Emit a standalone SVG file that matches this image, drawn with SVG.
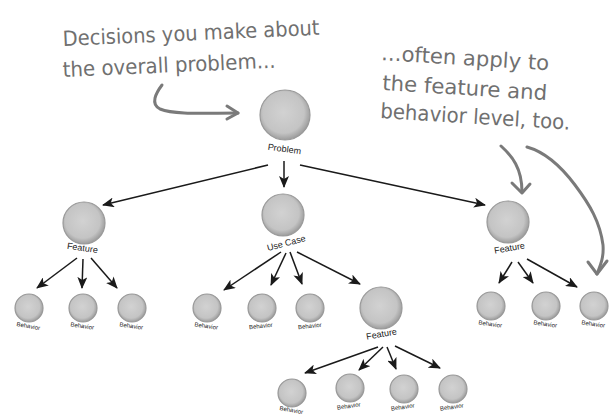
<svg xmlns="http://www.w3.org/2000/svg" width="614" height="415" viewBox="0 0 614 415">
<style>
.hand{font-family:"DejaVu Sans","Liberation Sans",sans-serif;font-size:21px;fill:#707070}
.lbl{font-family:"Liberation Sans","DejaVu Sans",sans-serif;font-size:9px;fill:#222;text-anchor:middle}
.blbl{font-family:"Liberation Sans","DejaVu Sans",sans-serif;font-size:6px;fill:#222;text-anchor:middle}
.ball{fill:url(#g);stroke:#999999;stroke-width:1.2}
.conn line{stroke:#1a1a1a;stroke-width:1.5;marker-end:url(#ah)}
.note{fill:none;stroke:#7a7a7a;stroke-width:3;stroke-linecap:round;stroke-linejoin:round}
</style>
<defs>
<radialGradient id="g" cx="0.47" cy="0.45" r="0.55">
<stop offset="0" stop-color="#d2d2d2"/>
<stop offset="0.75" stop-color="#c4c4c4"/>
<stop offset="1" stop-color="#9c9c9c"/>
</radialGradient>
<marker id="ah" markerUnits="userSpaceOnUse" markerWidth="12" markerHeight="10" refX="11" refY="5" orient="auto">
<path d="M0,0 L12,5 L0,10 L3,5 Z" fill="#1a1a1a"/>
</marker>
</defs>
<rect width="614" height="415" fill="#ffffff"/>

<g id="annotations">
<text class="hand" transform="translate(63,46) rotate(-2.5)" textLength="257" lengthAdjust="spacingAndGlyphs">Decisions you make about</text>
<text class="hand" transform="translate(63,77) rotate(-2.5)" textLength="213" lengthAdjust="spacingAndGlyphs">the overall problem...</text>
<text class="hand" transform="translate(381,60) rotate(3.5)" textLength="168" lengthAdjust="spacingAndGlyphs">...often apply to</text>
<text class="hand" transform="translate(382,90) rotate(3.5)" textLength="165" lengthAdjust="spacingAndGlyphs">the feature and</text>
<text class="hand" transform="translate(380,118) rotate(3.5)" textLength="190" lengthAdjust="spacingAndGlyphs">behavior level, too.</text>
<path class="note" d="M162,85 C156,93 150,104 160,109 C175,115 205,113 238,113"/>
<path class="note" d="M227,106 L238,113 L227,119"/>
<path class="note" d="M501,146 C512,156 522,168 522,192"/>
<path class="note" d="M512,183 L522,193 L530,184"/>
<path class="note" d="M527,147 C545,152 560,165 575,185 C590,205 600,222 603,245 C604,258 600,266 597,274"/>
<path class="note" d="M588,262 L597,274 L607,261"/>
</g>

<g id="connectors" class="conn">
<line x1="268" y1="165" x2="103" y2="205"/>
<line x1="284" y1="161" x2="284" y2="187"/>
<line x1="300" y1="165" x2="485" y2="205"/>
<line x1="77" y1="258" x2="37" y2="288"/>
<line x1="83" y1="259" x2="82" y2="288"/>
<line x1="91" y1="258" x2="117" y2="288"/>
<line x1="281" y1="252" x2="224" y2="290"/>
<line x1="286" y1="253" x2="271" y2="285"/>
<line x1="290" y1="252" x2="302" y2="284"/>
<line x1="297" y1="252" x2="360" y2="284"/>
<line x1="512" y1="262" x2="499" y2="283"/>
<line x1="518" y1="262" x2="533" y2="283"/>
<line x1="527" y1="259" x2="577" y2="287"/>
<line x1="378" y1="347" x2="305" y2="373"/>
<line x1="383" y1="347" x2="359" y2="370"/>
<line x1="387" y1="347" x2="396" y2="369"/>
<line x1="395" y1="346" x2="440" y2="368"/>
</g>

<g id="problem"><circle class="ball" cx="285" cy="115" r="25"/><text class="lbl" transform="translate(284,152) rotate(8)">Problem</text></g>
<g id="feature-left"><circle class="ball" cx="84" cy="223" r="21"/><text class="lbl" transform="translate(82,251) rotate(8)">Feature</text></g>
<g id="usecase"><circle class="ball" cx="283" cy="215" r="21"/><text class="lbl" transform="translate(287,246) rotate(-15)">Use Case</text></g>
<g id="feature-right"><circle class="ball" cx="508" cy="222" r="21"/><text class="lbl" transform="translate(510,251) rotate(-10)">Feature</text></g>
<g id="feature-mid"><circle class="ball" cx="381" cy="308" r="21"/><text class="lbl" transform="translate(382,337) rotate(-10)">Feature</text></g>

<g id="b1"><circle class="ball" cx="29" cy="308" r="14"/><text class="blbl" transform="translate(28,328) rotate(10)">Behavior</text></g>
<g id="b2"><circle class="ball" cx="83" cy="308" r="14"/><text class="blbl" transform="translate(82,328) rotate(8)">Behavior</text></g>
<g id="b3"><circle class="ball" cx="132" cy="308" r="14"/><text class="blbl" transform="translate(131,328) rotate(8)">Behavior</text></g>
<g id="b4"><circle class="ball" cx="207" cy="308" r="14"/><text class="blbl" transform="translate(206,328) rotate(8)">Behavior</text></g>
<g id="b5"><circle class="ball" cx="262" cy="308" r="14"/><text class="blbl" transform="translate(261,328) rotate(-6)">Behavior</text></g>
<g id="b6"><circle class="ball" cx="310" cy="308" r="14"/><text class="blbl" transform="translate(310,328) rotate(-6)">Behavior</text></g>
<g id="b7"><circle class="ball" cx="491" cy="306" r="14"/><text class="blbl" transform="translate(490,326) rotate(8)">Behavior</text></g>
<g id="b8"><circle class="ball" cx="546" cy="306" r="14"/><text class="blbl" transform="translate(545,326) rotate(8)">Behavior</text></g>
<g id="b9"><circle class="ball" cx="594" cy="306" r="14"/><text class="blbl" transform="translate(593,326) rotate(8)">Behavior</text></g>
<g id="b10"><circle class="ball" cx="292" cy="393" r="14"/><text class="blbl" transform="translate(291,412) rotate(10)">Behavior</text></g>
<g id="b11"><circle class="ball" cx="350" cy="388" r="14"/><text class="blbl" transform="translate(349,408) rotate(-8)">Behavior</text></g>
<g id="b12"><circle class="ball" cx="404" cy="389" r="14"/><text class="blbl" transform="translate(403,409) rotate(-8)">Behavior</text></g>
<g id="b13"><circle class="ball" cx="453" cy="389" r="14"/><text class="blbl" transform="translate(452,409) rotate(-8)">Behavior</text></g>
</svg>
